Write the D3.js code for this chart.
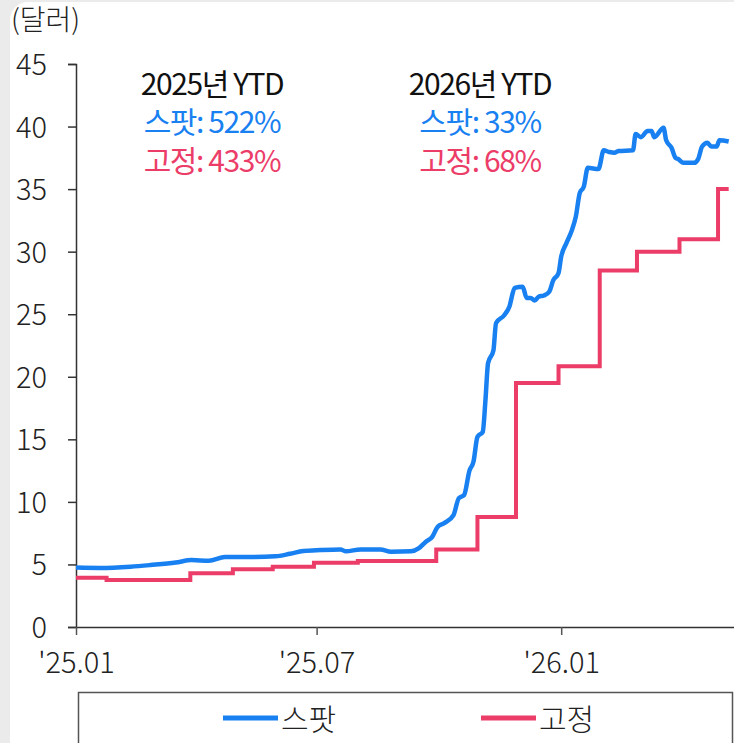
<!DOCTYPE html>
<html>
<head>
<meta charset="utf-8">
<script src="https://cdn.jsdelivr.net/npm/d3@7"></script>
<style>
  body { margin: 0; background: #ebebeb; }
  svg { display: block; }
  text { font-family: "Noto Sans CJK KR", "Noto Sans", sans-serif; }
</style>
</head>
<body>
<div id="chart"></div>
<script>
// spot price (blue)
var spotDates = ["2025-01-01","2025-01-19","2025-02-11","2025-02-26","2025-03-17","2025-03-29","2025-04-11","2025-04-23","2025-05-12","2025-05-31","2025-06-11","2025-06-21","2025-07-04","2025-07-19","2025-07-23","2025-08-03","2025-08-18","2025-08-26","2025-09-10","2025-09-16","2025-09-21","2025-09-26","2025-09-30","2025-10-05","2025-10-12","2025-10-16","2025-10-20","2025-10-24","2025-10-27","2025-10-30","2025-11-03","2025-11-05","2025-11-07","2025-11-11","2025-11-13","2025-11-19","2025-11-23","2025-11-27","2025-12-03","2025-12-06","2025-12-09","2025-12-12","2025-12-15","2025-12-19","2025-12-23","2025-12-26","2025-12-30","2026-01-01","2026-01-05","2026-01-09","2026-01-12","2026-01-15","2026-01-18","2026-01-21","2026-01-29","2026-02-02","2026-02-06","2026-02-10","2026-02-13","2026-02-24","2026-02-26","2026-03-02","2026-03-07","2026-03-10","2026-03-12","2026-03-19","2026-03-21","2026-03-25","2026-03-28","2026-03-30","2026-04-03","2026-04-11","2026-04-14","2026-04-17","2026-04-21","2026-04-24","2026-04-28","2026-04-30","2026-05-07"];
var spotValues = [4.75,4.72,4.82,4.95,5.15,5.35,5.3,5.6,5.6,5.65,5.85,6.07,6.15,6.2,6.05,6.2,6.2,6.02,6.05,6.3,6.8,7.2,8.0,8.3,8.95,10.3,10.55,12.5,13.2,15.2,15.6,18.1,21.1,22.1,24.3,24.9,25.6,27.1,27.2,26.3,26.3,26.1,26.4,26.5,26.8,27.7,28.3,29.6,30.7,31.7,32.8,34.7,35.2,36.7,36.6,38.1,37.97,37.9,38.05,38.1,39.4,39.15,39.65,39.65,39.15,39.9,38.9,38.3,37.5,37.4,37.1,37.1,37.4,38.4,38.7,38.4,38.4,38.9,38.8];

// fixed contract price (red), step changes
var fixedDates = ["2025-01-01","2025-01-24","2025-03-28","2025-04-29","2025-05-29","2025-06-29","2025-08-01","2025-09-29","2025-10-30","2025-11-28","2025-12-30","2026-01-30","2026-02-27","2026-03-31","2026-04-29","2026-05-07"];
var fixedValues = [3.94,3.76,4.3,4.62,4.82,5.14,5.27,6.2,8.8,19.5,20.85,28.5,30.0,31.0,35.0,35.0];

var yTicks = [0,5,10,15,20,25,30,35,40,45];
var xTickDates = ["2025-01-01","2025-07-01","2026-01-01"];
var xTickLabels = ["'25.01","'25.07","'26.01"];

var seriesNames = ["스팟","고정"];
var colors = ["#1880f0","#ec3d69"];
var notes = [
  { title: "2025년 YTD", spot: "스팟: 522%", fixed: "고정: 433%" },
  { title: "2026년 YTD", spot: "스팟: 33%", fixed: "고정: 68%" }
];

var W = 734, H = 743;
var parse = d3.timeParse("%Y-%m-%d");

var svg = d3.select("#chart").append("svg")
  .attr("width", W).attr("height", H);

// white card with rounded corner
svg.append("rect")
  .attr("x", 10).attr("y", 2)
  .attr("width", W + 20).attr("height", H + 20)
  .attr("rx", 18).attr("fill", "#fff");

var x = d3.scaleTime()
  .domain([parse("2025-01-01"), parse("2026-05-11")])
  .range([76, 734]);
var y = d3.scaleLinear().domain([0, 45]).range([627, 64]);

// y axis
var yAxis = svg.append("g")
  .attr("transform", "translate(76,0)")
  .call(d3.axisLeft(y).tickValues(yTicks).tickSize(8).tickPadding(21));
yAxis.select(".domain").attr("stroke", "#333").attr("stroke-width", 1.5);
yAxis.selectAll(".tick line").attr("stroke", "#333").attr("stroke-width", 1.5);
yAxis.selectAll(".tick text")
  .attr("font-size", 29).attr("fill", "#222").attr("font-weight", 300)
  .attr("dy", "0.36em");

// x axis
var xAxis = svg.append("g")
  .attr("transform", "translate(0,627)")
  .call(d3.axisBottom(x)
    .tickValues(xTickDates.map(parse))
    .tickFormat(function (d, i) { return xTickLabels[i]; })
    .tickSize(8).tickSizeOuter(0).tickPadding(17));
xAxis.select(".domain").attr("stroke", "#333").attr("stroke-width", 1.5);
xAxis.selectAll(".tick line").attr("stroke", "#555").attr("stroke-width", 1.5);
xAxis.selectAll(".tick text")
  .attr("font-size", 29).attr("fill", "#222").attr("font-weight", 300);

svg.append("text")
  .attr("x", 11).attr("y", 30)
  .attr("font-size", 28).attr("fill", "#222").attr("font-weight", 300)
  .text("(달러)");

// lines
var spot = spotDates.map(function (d, i) { return { date: parse(d), value: spotValues[i] }; });
var fixed = fixedDates.map(function (d, i) { return { date: parse(d), value: fixedValues[i] }; });

var spotLine = d3.line()
  .x(function (d) { return x(d.date); })
  .y(function (d) { return y(d.value); })
  .curve(d3.curveMonotoneX);
var fixedLine = d3.line()
  .x(function (d) { return x(d.date); })
  .y(function (d) { return y(d.value); })
  .curve(d3.curveStepAfter);

svg.append("path").datum(fixed)
  .attr("d", fixedLine).attr("fill", "none")
  .attr("stroke", colors[1]).attr("stroke-width", 4);
svg.append("path").datum(spot)
  .attr("d", spotLine).attr("fill", "none")
  .attr("stroke", colors[0]).attr("stroke-width", 4.5)
  .attr("stroke-linejoin", "round");

// YTD notes
var noteX = [212, 480];
notes.forEach(function (n, i) {
  var g = svg.append("g").attr("text-anchor", "middle")
    .attr("font-size", 30).attr("letter-spacing", -1.4);
  g.append("text").attr("x", noteX[i]).attr("y", 95).attr("fill", "#111").text(n.title);
  g.append("text").attr("x", noteX[i]).attr("y", 133).attr("fill", colors[0]).text(n.spot);
  g.append("text").attr("x", noteX[i]).attr("y", 172).attr("fill", colors[1]).text(n.fixed);
});

// legend box
svg.append("path")
  .attr("d", "M78.5," + (H + 5) + "V692.5H732.5V" + (H + 5))
  .attr("fill", "none").attr("stroke", "#555").attr("stroke-width", 1.5);

var legX = [223, 481];
seriesNames.forEach(function (name, i) {
  svg.append("line")
    .attr("x1", legX[i]).attr("x2", legX[i] + 55)
    .attr("y1", 718).attr("y2", 718)
    .attr("stroke", colors[i]).attr("stroke-width", 5);
  svg.append("text")
    .attr("x", legX[i] + 58).attr("y", 730)
    .attr("font-size", 30).attr("fill", "#222").attr("font-weight", 300)
    .text(name);
});
</script>
</body>
</html>
